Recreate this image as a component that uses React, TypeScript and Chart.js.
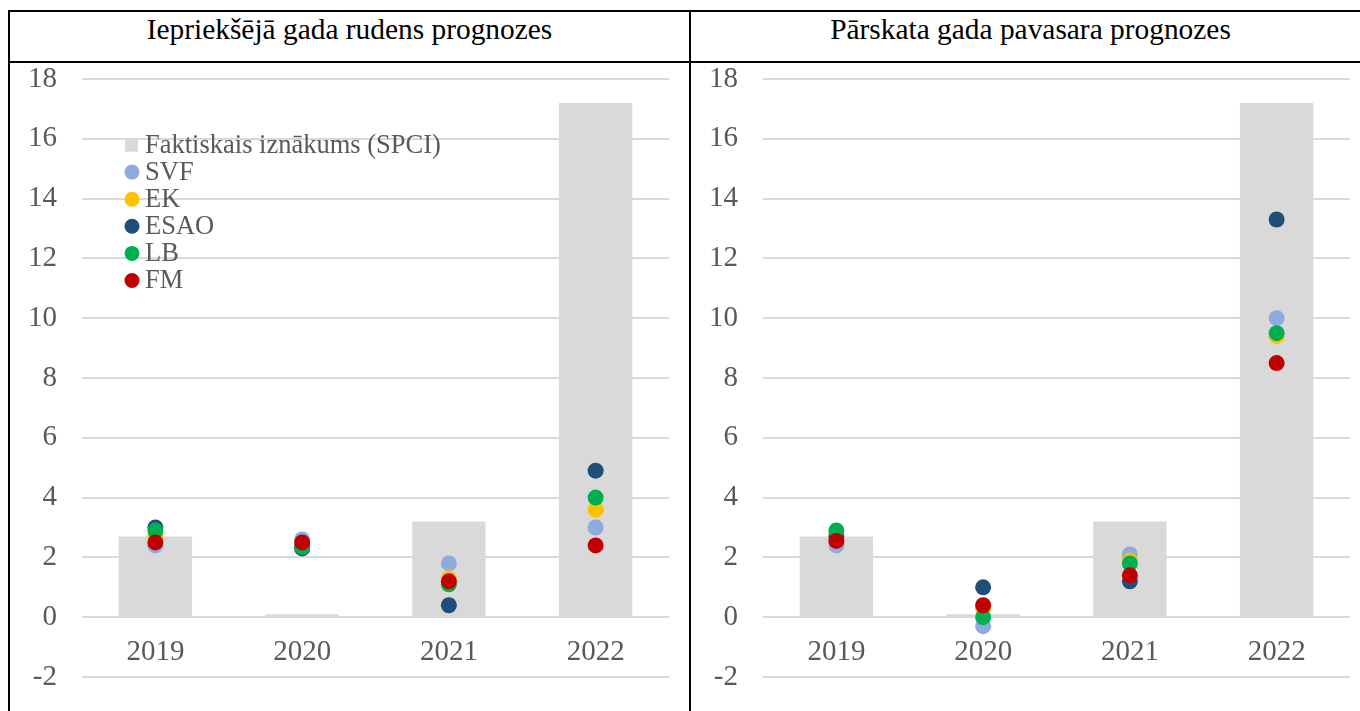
import React, { useEffect, useRef } from "react";
import { Chart, registerables } from "chart.js";

Chart.register(...registerables);

const FONT = "'Liberation Serif', 'Times New Roman', serif";

const categories = ["2019", "2020", "2021", "2022"];
const seriesNames = ["Faktiskais iznākums (SPCI)", "SVF", "EK", "ESAO", "LB", "FM"];
const seriesColors = ["#8FAADC", "#FFC000", "#1F4E79", "#00B050", "#C00000"];
const barColor = "#D9D9D9";
const yTickMin = -2;
const yTickMax = 18;
const yTickStep = 2;

// Actual outcome (HICP)
const actual = [2.7, 0.1, 3.2, 17.2];

// Previous year's autumn forecasts
const autumnSVF = [2.4, 2.6, 1.8, 3.0];
const autumnEK = [2.7, 2.4, 1.3, 3.6];
const autumnESAO = [3.0, 2.3, 0.4, 4.9];
const autumnLB = [2.9, 2.35, 1.1, 4.0];
const autumnFM = [2.5, 2.5, 1.2, 2.4];

// Reporting year's spring forecasts
const springSVF = [2.4, -0.3, 2.1, 10.0];
const springEK = [2.8, 0.3, 1.9, 9.4];
const springESAO = [2.7, 1.0, 1.2, 13.3];
const springLB = [2.9, 0.0, 1.8, 9.5];
const springFM = [2.55, 0.4, 1.4, 8.5];

const titles = ["Iepriekšējā gada rudens prognozes", "Pārskata gada pavasara prognozes"];

const insideLegend = {
  id: "insideLegend",
  afterDatasetsDraw(chart: any, _args: any, opts: any) {
    if (!opts || !opts.display) return;
    const ctx = chart.ctx;
    const { left, top } = chart.chartArea;
    const ds = chart.data.datasets;
    ctx.save();
    ctx.font = `26.5px ${FONT}`;
    ctx.textAlign = "left";
    ctx.textBaseline = "alphabetic";
    const textX = left + 63;
    const markX = left + 50;
    const base0 = top + 73.7;
    const step = 27.1;
    ds.forEach((d: any, i: number) => {
      const by = base0 + i * step;
      if (i === 0) {
        ctx.fillStyle = d.backgroundColor;
        ctx.fillRect(left + 43, by - 14, 13, 13);
      } else {
        ctx.fillStyle = d.pointBackgroundColor;
        ctx.beginPath();
        ctx.arc(markX, by - 7.7, 7.5, 0, Math.PI * 2);
        ctx.fill();
      }
      ctx.fillStyle = "#595959";
      ctx.fillText(d.label, textX, by);
    });
    ctx.restore();
  },
};

function makeConfig(series: number[][], showLegend: boolean): any {
  return {
    type: "bar",
    data: {
      labels: categories,
      datasets: [
        {
          type: "bar",
          label: seriesNames[0],
          data: actual,
          backgroundColor: barColor,
          barPercentage: 0.5,
          categoryPercentage: 1,
          order: 10,
        },
        ...series.map((d, i) => ({
          type: "line",
          label: seriesNames[i + 1],
          data: d,
          showLine: false,
          pointRadius: 8,
          pointHoverRadius: 8,
          pointBorderWidth: 0,
          pointBackgroundColor: seriesColors[i],
          pointBorderColor: seriesColors[i],
          backgroundColor: seriesColors[i],
          borderColor: seriesColors[i],
          order: 5 - i,
        })),
      ],
    },
    options: {
      responsive: false,
      animation: false,
      events: [],
      layout: { padding: { left: 0, right: 20, top: 16, bottom: 34 } },
      plugins: {
        legend: { display: false },
        tooltip: { enabled: false },
        insideLegend: { display: showLegend },
      },
      scales: {
        x: {
          position: { y: 0 },
          grid: { display: false, drawTicks: false },
          border: { display: false },
          ticks: { color: "#595959", font: { family: FONT, size: 29 }, padding: 18 },
          afterFit: (s: any) => {
            s.paddingLeft = 0;
            s.paddingRight = 0;
          },
        },
        y: {
          min: yTickMin,
          max: yTickMax,
          ticks: {
            stepSize: yTickStep,
            color: "#595959",
            font: { family: FONT, size: 29, lineHeight: 1 },
            padding: 25,
          },
          grid: { color: "#D9D9D9", lineWidth: 2, drawTicks: false },
          border: { display: false },
          afterFit: (s: any) => {
            s.width = 72;
            s.paddingTop = 0;
            s.paddingBottom = 0;
          },
        },
      },
    },
    plugins: [insideLegend],
  };
}

function ChartCanvas({ series, showLegend, left }: { series: number[][]; showLegend: boolean; left: number }) {
  const ref = useRef<HTMLCanvasElement | null>(null);
  useEffect(() => {
    if (!ref.current) return;
    const chart = new Chart(ref.current, makeConfig(series, showLegend));
    return () => chart.destroy();
  }, []);
  return (
    <canvas
      ref={ref}
      width={679}
      height={648}
      style={{ position: "absolute", left, top: 63, width: 679, height: 648, display: "block" }}
    />
  );
}

const titleStyle = (left: number): React.CSSProperties => ({
  position: "absolute",
  left,
  width: 679,
  top: 15,
  fontFamily: FONT,
  fontSize: 29.4,
  lineHeight: "29px",
  textAlign: "center",
  color: "#000",
  whiteSpace: "nowrap",
});

export default function App() {
  const line = "#000";
  return (
    <div
      style={{
        position: "fixed",
        left: 0,
        top: 0,
        width: 1360,
        height: 711,
        overflow: "hidden",
        background: "#fff",
      }}
    >
      <div style={{ position: "absolute", left: 8, top: 10, width: 1400, height: 2, background: line }} />
      <div style={{ position: "absolute", left: 8, top: 61, width: 1400, height: 2, background: line }} />
      <div style={{ position: "absolute", left: 8, top: 10, width: 2, height: 720, background: line }} />
      <div style={{ position: "absolute", left: 689, top: 10, width: 2, height: 720, background: line }} />
      <div style={titleStyle(10)}>{titles[0]}</div>
      <div style={titleStyle(691)}>{titles[1]}</div>
      <ChartCanvas series={[autumnSVF, autumnEK, autumnESAO, autumnLB, autumnFM]} showLegend={true} left={10} />
      <ChartCanvas series={[springSVF, springEK, springESAO, springLB, springFM]} showLegend={false} left={691} />
    </div>
  );
}
